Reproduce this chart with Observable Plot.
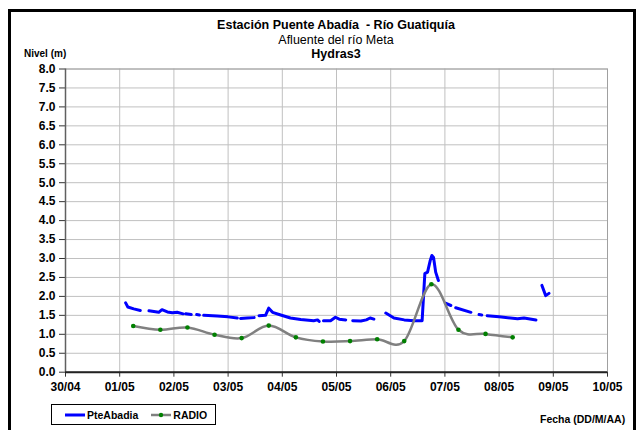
<!DOCTYPE html>
<html>
<head>
<meta charset="utf-8">
<script src="https://cdn.jsdelivr.net/npm/d3@7"></script>
<script src="https://cdn.jsdelivr.net/npm/@observablehq/plot@0.6"></script>
<style>
  html, body { margin: 0; padding: 0; background: #fff; }
  #wrap { position: relative; width: 642px; height: 430px; overflow: hidden; background: #fff;
          font-family: "Liberation Sans", Arial, sans-serif; color: #000; }
  #frame { position: absolute; left: 8px; top: 9px; width: 622px; height: 440px; border: 3px solid #000; }
  #chart { position: absolute; left: 0; top: 0; }
  .txt { position: absolute; white-space: nowrap; line-height: 1; }
  #legend { position: absolute; left: 51px; top: 404px; width: 163px; height: 19px; border: 1px solid #000;
            display: flex; align-items: center; font-size: 10.5px; font-weight: bold; background: #fff; }
  #legend .item { display: flex; align-items: center; }
</style>
</head>
<body>
<div id="wrap">
  <div id="frame"></div>
  <div id="chart"></div>
  <div class="txt" id="t1" style="left:0;width:672px;text-align:center;top:19px;font-size:12.5px;font-weight:bold;">Estación Puente Abadía&nbsp; - Río Guatiquía</div>
  <div class="txt" id="t2" style="left:0;width:672px;text-align:center;top:34px;font-size:12.5px;">Afluente del río Meta</div>
  <div class="txt" id="t3" style="left:0;width:672px;text-align:center;top:48px;font-size:12.5px;font-weight:bold;">Hydras3</div>
  <div class="txt" id="ylab" style="left:24px;top:49px;font-size:10px;font-weight:bold;">Nivel (m)</div>
  <div class="txt" id="xlab" style="left:540px;top:414px;font-size:10.5px;font-weight:bold;">Fecha (DD/M/AA)</div>
  <div id="legend"></div>
</div>
<script>
// ---------------- data ----------------
const seriesNames = ["PteAbadia", "RADIO"];
const seriesColors = ["#0000ff", "#808080"];
const radioDotColor = "#008000";

// PteAbadia: timestamps (MM-DDTHH:MM) and levels (m); null = missing data (gap)
const pteTimes = [
  "05-01T02:38","05-01T03:36","05-01T06:14","05-01T09:07","05-01T11:00",
  "05-01T12:58","05-01T17:17","05-01T18:43","05-01T21:07","05-01T23:17","05-02T01:26","05-02T04:05","05-02T04:40",
  "05-02T05:17","05-02T07:41","05-02T09:00",
  "05-02T10:05","05-02T11:17","05-02T12:15",
  "05-02T13:12","05-02T19:12","05-03T00:00","05-03T04:05","05-03T04:50",
  "05-03T05:31","05-03T08:24","05-03T11:31","05-03T12:40",
  "05-03T13:41","05-03T16:34","05-03T18:00","05-03T19:41","05-03T23:17","05-04T03:36","05-04T08:10","05-04T13:55","05-04T15:36","05-04T16:19","05-04T17:10",
  "05-04T18:14","05-04T21:22","05-04T23:31","05-05T01:12","05-05T04:05","05-05T05:40",
  "05-05T07:12","05-05T10:48","05-05T13:12","05-05T14:53","05-05T16:34","05-05T19:00",
  "05-05T21:50","05-06T01:26","05-06T06:00","05-06T10:19","05-06T13:55","05-06T15:07","05-06T16:19","05-06T17:31","05-06T18:14","05-06T18:58","05-06T19:55","05-06T21:07","05-06T22:40",
  "05-07T00:14","05-07T02:38","05-07T03:40",
  "05-07T04:48","05-07T11:31","05-07T13:20",
  "05-07T15:07","05-07T16:19","05-07T17:30",
  "05-07T18:43","05-08T00:00","05-08T08:10","05-08T11:02","05-08T16:19","05-08T17:40",
  "05-08T18:58","05-08T20:38","05-08T22:05"
];
const pteLevels = [
  1.83,1.72,1.67,1.63,null,
  1.62,1.58,1.65,1.59,1.57,1.58,1.54,null,
  1.54,1.52,null,
  1.52,1.51,null,
  1.50,1.48,1.46,1.43,null,
  1.42,1.43,1.44,null,
  1.49,1.50,1.69,1.58,1.51,1.43,1.39,1.36,1.38,1.34,null,
  1.36,1.36,1.45,1.40,1.38,null,
  1.36,1.35,1.38,1.43,1.40,null,
  1.56,1.43,1.38,1.36,1.36,2.60,2.64,2.95,3.08,3.03,2.64,2.42,null,
  1.82,1.76,null,
  1.70,1.58,null,
  1.52,1.51,null,
  1.49,1.46,1.41,1.43,1.38,null,
  2.29,2.02,2.08
];

// RADIO: twice-daily readings
const radioTimes = [
  "05-01T06:00","05-01T18:00","05-02T06:00","05-02T18:00","05-03T06:00","05-03T18:00",
  "05-04T06:00","05-04T18:00","05-05T06:00","05-05T18:00","05-06T06:00","05-06T18:00",
  "05-07T06:00","05-07T18:00","05-08T06:00"
];
const radioLevels = [1.22,1.12,1.18,0.99,0.90,1.23,0.92,0.81,0.82,0.87,0.82,2.32,1.12,1.01,0.92];

// axis ticks
const xTickDays = ["04-30","05-01","05-02","05-03","05-04","05-05","05-06","05-07","05-08","05-09","05-10"];
const yTickValues = [0,0.5,1,1.5,2,2.5,3,3.5,4,4.5,5,5.5,6,6.5,7,7.5,8];

// ---------------- build ----------------
const YEAR = "2012-";
const parse = s => new Date(YEAR + (s.length === 5 ? s + "T00:00" : s) + ":00Z");

const pte = pteTimes.map((t, i) => ({date: parse(t), level: pteLevels[i]}));
const radio = radioTimes.map((t, i) => ({date: parse(t), level: radioLevels[i]}));
const xTicks = xTickDays.map(parse);
const xDomain = [xTicks[0], xTicks[xTicks.length - 1]];

const chart = Plot.plot({
  width: 642,
  height: 430,
  marginLeft: 65,
  marginRight: 35,
  marginTop: 68.5,
  marginBottom: 58.3,
  style: {fontFamily: '"Liberation Sans", Arial, sans-serif', fontSize: "12px", fontWeight: "bold", color: "#000", background: "transparent"},
  x: {type: "utc", domain: xDomain},
  y: {domain: [0, 8]},
  marks: [
    Plot.gridX(xTicks, {stroke: "#c0c0c0", strokeOpacity: 1, strokeWidth: 1}),
    Plot.gridY(yTickValues, {stroke: "#c0c0c0", strokeOpacity: 1, strokeWidth: 1}),
    Plot.frame({stroke: "#a0a0a0", strokeWidth: 1}),
    Plot.axisX(xTicks, {tickFormat: d3.utcFormat("%d/%m"), tickSize: 5, tickPadding: 5, label: null, stroke: "#333", fill: "#000", fontWeight: "bold", fontSize: 12}),
    Plot.axisY(yTickValues, {tickFormat: d3.format(".1f"), tickSize: 6, tickPadding: 4, label: null, stroke: "#333", fill: "#000", fontWeight: "bold", fontSize: 12}),
    Plot.ruleX([xDomain[0]], {stroke: "#606060", strokeWidth: 1.5}),
    Plot.ruleY([0], {stroke: "#222", strokeWidth: 2}),
    Plot.line(pte, {x: "date", y: "level", stroke: seriesColors[0], strokeWidth: 3, strokeLinecap: "round", strokeLinejoin: "round"}),
    Plot.line(radio, {x: "date", y: "level", stroke: seriesColors[1], strokeWidth: 2.5, curve: "cardinal"}),
    Plot.dot(radio, {x: "date", y: "level", r: 2.3, fill: radioDotColor, stroke: null})
  ]
});
document.getElementById("chart").appendChild(chart);

// legend
const legend = document.getElementById("legend");
function swatch(color, withDot) {
  const ns = "http://www.w3.org/2000/svg";
  const s = document.createElementNS(ns, "svg");
  s.setAttribute("width", 20); s.setAttribute("height", 8);
  const l = document.createElementNS(ns, "line");
  l.setAttribute("x1", 0); l.setAttribute("x2", 20); l.setAttribute("y1", 4); l.setAttribute("y2", 4);
  l.setAttribute("stroke", color); l.setAttribute("stroke-width", withDot ? 2.5 : 3);
  s.appendChild(l);
  if (withDot) {
    const c = document.createElementNS(ns, "circle");
    c.setAttribute("cx", 10); c.setAttribute("cy", 4); c.setAttribute("r", 2.2); c.setAttribute("fill", radioDotColor);
    s.appendChild(c);
  }
  return s;
}
seriesNames.forEach((name, i) => {
  const it = document.createElement("span");
  it.className = "item";
  it.style.marginLeft = "13px";
  it.appendChild(swatch(seriesColors[i], i === 1));
  const tx = document.createElement("span");
  tx.textContent = name;
  tx.style.marginLeft = "2px";
  it.appendChild(tx);
  legend.appendChild(it);
});
</script>
</body>
</html>
